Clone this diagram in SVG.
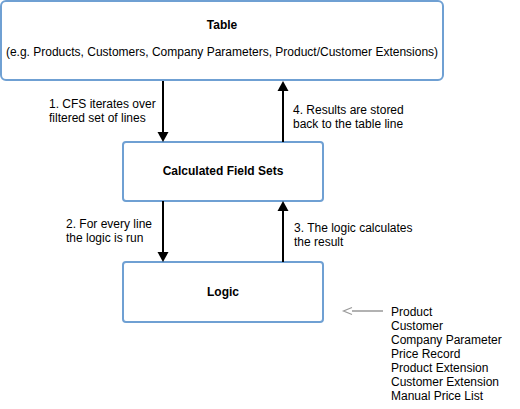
<svg xmlns="http://www.w3.org/2000/svg" width="520" height="409" viewBox="0 0 520 409">
<defs>
<marker id="ah" markerWidth="12" markerHeight="12" refX="8" refY="5.5" orient="auto" markerUnits="userSpaceOnUse" viewBox="0 0 12 11">
<path d="M0,0 L10,5.5 L0,11 Z" fill="#000"/>
</marker>
<marker id="oh" markerWidth="12" markerHeight="10" refX="0.5" refY="5" orient="auto" markerUnits="userSpaceOnUse" viewBox="0 0 12 10">
<path d="M0.5,1.5 L9,5 L0.5,8.5" fill="none" stroke="#999" stroke-width="1.2"/>
</marker>
<style>
.box{fill:#fff;stroke:#6fa0d3;stroke-width:2}
.t{font-family:"Liberation Sans",Arial,sans-serif;font-size:12px;fill:#000}
.b{font-weight:bold;text-anchor:middle}
.c{stroke:#000;stroke-width:2;fill:none}
</style>
</defs>
<g id="table">
<rect class="box" x="1" y="1" width="442" height="79" rx="5"/>
<text class="t b" x="222" y="29">Table</text>
<text class="t" x="222" y="56" text-anchor="middle">(e.g. Products, Customers, Company Parameters, Product/Customer Extensions)</text>
</g>
<g id="cfs">
<rect class="box" x="123" y="142" width="200" height="59" rx="3"/>
<text class="t b" x="223" y="175">Calculated Field Sets</text>
</g>
<g id="logic">
<rect class="box" x="123" y="262" width="200" height="60" rx="3"/>
<text class="t b" x="223" y="296">Logic</text>
</g>
<g id="sources">
<text class="t" x="391" y="316">Product</text>
<text class="t" x="391" y="330">Customer</text>
<text class="t" x="391" y="344">Company Parameter</text>
<text class="t" x="391" y="358">Price Record</text>
<text class="t" x="391" y="372">Product Extension</text>
<text class="t" x="391" y="386">Customer Extension</text>
<text class="t" x="391" y="400">Manual Price List</text>
</g>
<g id="connectors">
<line class="c" x1="163" y1="81" x2="163" y2="140" marker-end="url(#ah)"/>
<line class="c" x1="283" y1="142" x2="283" y2="83" marker-end="url(#ah)"/>
<line class="c" x1="163" y1="201" x2="163" y2="260" marker-end="url(#ah)"/>
<line class="c" x1="283" y1="262" x2="283" y2="203" marker-end="url(#ah)"/>
<line x1="383" y1="311" x2="352" y2="311" stroke="#999" stroke-width="1.5" marker-end="url(#oh)"/>
<text class="t" x="49" y="108">1. CFS iterates over</text>
<text class="t" x="49" y="122">filtered set of lines</text>
<text class="t" x="293" y="114">4. Results are stored</text>
<text class="t" x="293" y="128">back to the table line</text>
<text class="t" x="66" y="228">2. For every line</text>
<text class="t" x="66" y="242">the logic is run</text>
<text class="t" x="294" y="232">3. The logic calculates</text>
<text class="t" x="294" y="246">the result</text>
</g>
</svg>
